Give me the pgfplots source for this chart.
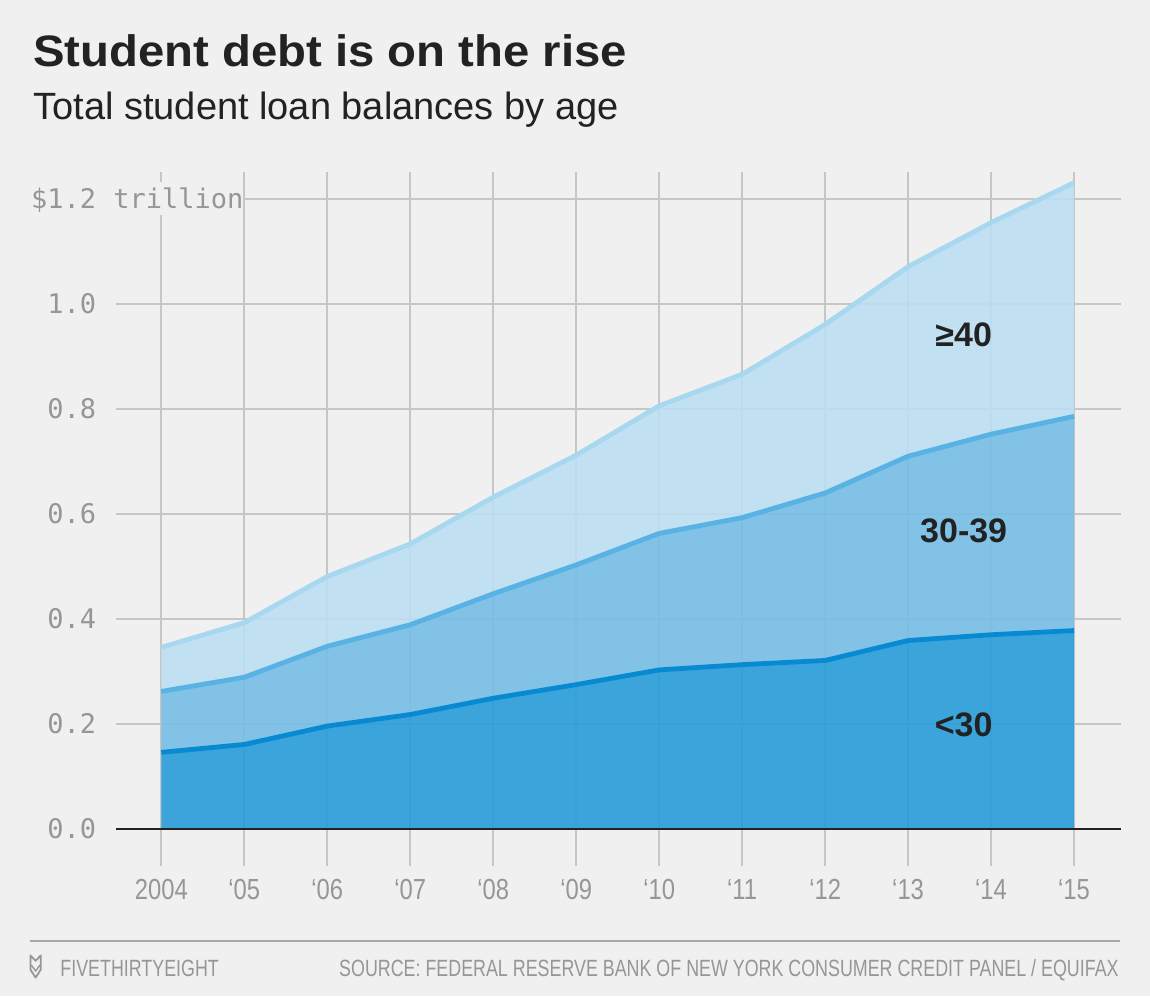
\documentclass[border=0pt]{standalone}
\usepackage{fontspec}
\setmainfont{Liberation Sans}
\newfontfamily\narrowfont[FakeStretch=0.82]{Liberation Sans}
\newfontfamily\monofont{DejaVu Sans Mono}
\newfontfamily\titlefont[FakeStretch=1.075]{Liberation Sans Bold}
\newfontfamily\footfont[FakeStretch=0.76]{Liberation Sans}
\usepackage{pgfplots}
\pgfplotsset{compat=1.18}
\usepackage{pgfplotstable}
\usepgfplotslibrary{fillbetween}

\definecolor{bgc}{RGB}{240,240,240}
\definecolor{gridc}{RGB}{198,198,198}
\definecolor{tickc}{RGB}{150,150,150}
\definecolor{darktext}{RGB}{34,34,34}
\definecolor{lowfill}{RGB}{39,156,217}
\definecolor{midfill}{RGB}{118,190,229}
\definecolor{topfill}{RGB}{188,223,242}
\definecolor{lowline}{RGB}{8,138,210}
\definecolor{midline}{RGB}{88,178,228}
\definecolor{topline}{RGB}{168,216,240}
\pagecolor{bgc}

% student loan balances by age group, trillions of dollars
% n = years since 2004
\pgfplotstableread{
n   lt30   t30    ge40
0   0.146  0.116  0.084
1   0.161  0.128  0.104
2   0.196  0.152  0.133
3   0.218  0.171  0.154
4   0.249  0.199  0.184
5   0.275  0.228  0.209
6   0.303  0.260  0.243
7   0.313  0.280  0.273
8   0.321  0.319  0.321
9   0.359  0.351  0.361
10  0.370  0.382  0.403
11  0.378  0.408  0.445
}\debttable

\begin{document}
\begin{tikzpicture}
\path (0,0) rectangle (575pt,498pt);

\node[anchor=base west, inner sep=0pt, text=darktext, font=\titlefont\fontsize{22}{22}\selectfont]
  at (16.35pt,464.65pt) {Student debt is on the rise};
\node[anchor=base west, inner sep=0pt, text=darktext, font=\fontsize{19}{19}\selectfont]
  at (16.5pt,438pt) {Total student loan balances by age};

\begin{axis}[
    at={(57.75pt,65pt)}, anchor=south west,
    scale only axis,
    width=502.5pt, height=347.15pt,
    xmin=-0.552, xmax=11.56,
    ymin=-0.0705, ymax=1.252,
    axis line style={draw=none},
    major tick length=0pt,
    xtick={0,...,11},
    xticklabels={2004,‘05,‘06,‘07,‘08,‘09,‘10,‘11,‘12,‘13,‘14,‘15},
    ytick={0,0.2,0.4,0.6,0.8,1.0,1.2},
    yticklabels={0.0,0.2,0.4,0.6,0.8,1.0,\$1.2},
    xticklabel style={anchor=north, inner sep=0pt, yshift=-6.5pt, text=tickc,
        font=\narrowfont\fontsize{14.5}{14.5}\selectfont},
    yticklabel style={anchor=base east, inner sep=0pt, xshift=-9.5pt, yshift=-4.7pt, text=tickc,
        font=\monofont\fontsize{13.5}{13.5}\selectfont},
    grid=major,
    grid style={gridc, line width=0.9pt},
    clip=false,
]
\addplot[draw=none, name path=zero] coordinates {(0,0) (11,0)};
\addplot[lowline, line width=2.4pt, line join=round, name path=low]
    table[x=n, y=lt30] {\debttable};
\addplot[midline, line width=2.4pt, line join=round, name path=mid]
    table[x=n, y expr=\thisrow{lt30}+\thisrow{t30}] {\debttable};
\addplot[topline, line width=2.4pt, line join=round, name path=top]
    table[x=n, y expr=\thisrow{lt30}+\thisrow{t30}+\thisrow{ge40}] {\debttable};

\addplot[lowfill, fill opacity=0.9, draw=none] fill between[of=low and zero];
\addplot[midfill, fill opacity=0.9, draw=none] fill between[of=mid and low];
\addplot[topfill, fill opacity=0.9, draw=none] fill between[of=top and mid];

\draw[darktext, line width=1.2pt] (axis cs:-0.552,0) -- (axis cs:11.56,0);

\node[anchor=base west, inner xsep=0pt, inner ysep=0pt, fill=bgc, text=tickc,
      text height=13pt, text depth=3.5pt,
      font=\monofont\fontsize{13.5}{13.5}\selectfont]
  at ([xshift=-1.25pt, yshift=-4.7pt]axis cs:-0.552,1.2) {trillion\hspace{7.5pt}};

\node[text=darktext, font=\bfseries\fontsize{17}{17}\selectfont] at (axis cs:9.67,0.941) {≥40};
\node[text=darktext, font=\bfseries\fontsize{17}{17}\selectfont] at (axis cs:9.67,0.568) {30-39};
\node[text=darktext, font=\bfseries\fontsize{17}{17}\selectfont] at (axis cs:9.67,0.199) {<30};
\end{axis}

% footer
\draw[gridc!85!black, line width=1pt] (15pt,27.5pt) -- (560pt,27.5pt);
\draw[tickc, line width=0.9pt, line join=round]
  (15.2pt,20.3pt) -- (17.8pt,17.6pt) -- (20.4pt,20.3pt) -- (20.4pt,13.2pt)
  -- (17.8pt,9.2pt) -- (15.2pt,13.2pt) -- cycle;
\draw[tickc, line width=0.7pt] (15.6pt,15.5pt) -- (17.8pt,12.5pt) -- (20pt,15.5pt);
\node[anchor=base west, inner sep=0pt, text=tickc, font=\footfont\fontsize{11.75}{11.75}\selectfont]
  at (30pt,9.65pt) {FIVETHIRTYEIGHT};
\node[anchor=base east, inner sep=0pt, text=tickc, font=\footfont\fontsize{11.75}{11.75}\selectfont]
  at (559.5pt,9.65pt) {SOURCE: FEDERAL RESERVE BANK OF NEW YORK CONSUMER CREDIT PANEL / EQUIFAX};

\pgfresetboundingbox
\path[use as bounding box] (0,0) rectangle (575pt,498pt);
\end{tikzpicture}
\end{document}
